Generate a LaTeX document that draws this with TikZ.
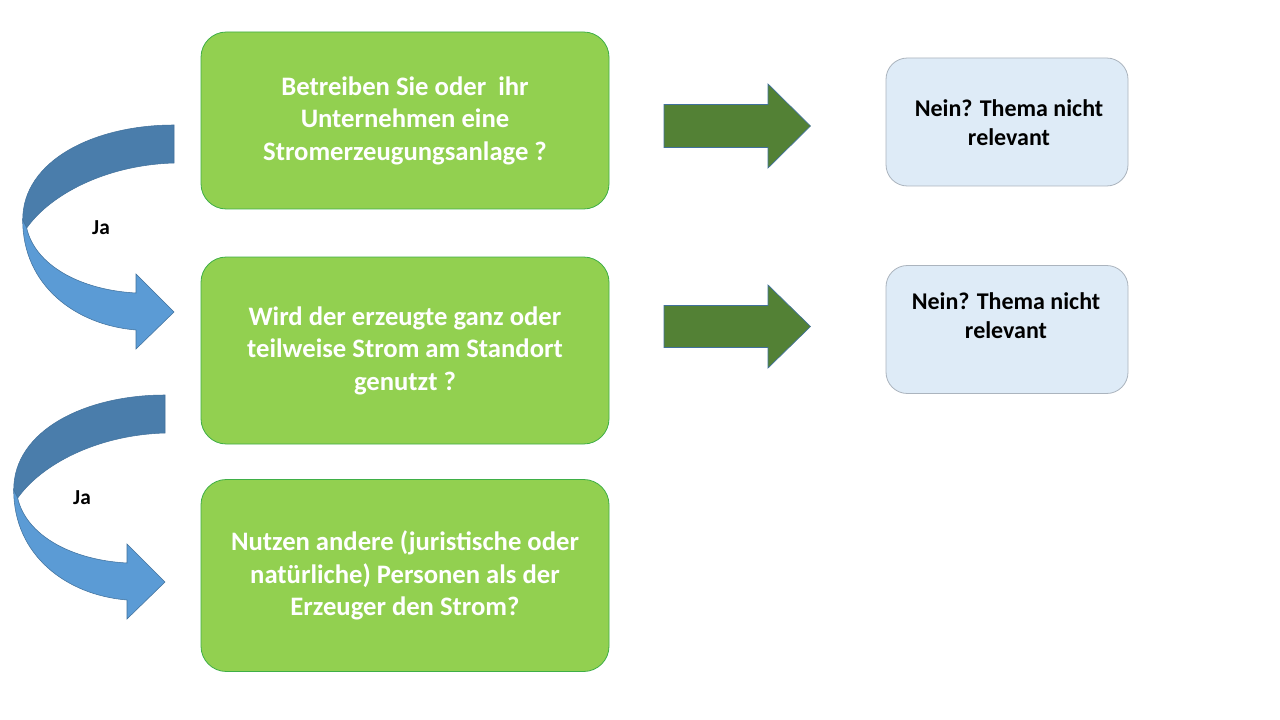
\documentclass[tikz,border=0pt]{standalone}
\usepackage{fontspec}
\setmainfont{Carlito}
\definecolor{boxgreen}{HTML}{92D050}
\definecolor{boxgreenline}{HTML}{3FAF46}
\definecolor{nobox}{HTML}{DEEBF7}
\definecolor{noboxline}{HTML}{ABB4BE}
\definecolor{arrgreen}{HTML}{538135}
\definecolor{arrline}{HTML}{41719C}
\definecolor{ribdark}{HTML}{4A7DAB}
\definecolor{riblight}{HTML}{5B9BD5}
\tikzset{
  qbox/.style={draw=boxgreenline, fill=boxgreen, line width=0.6pt, rounded corners=19pt,
    minimum width=306pt, inner sep=0pt, align=center, text=white,
    font=\fontsize{20}{24.4}\selectfont\bfseries},
  nbox/.style={draw=noboxline, fill=nobox, line width=0.6pt, rounded corners=16pt,
    minimum width=181.5pt, minimum height=96pt, inner sep=0pt},
  ntext/.style={align=center, inner sep=0pt, font=\fontsize{18}{21.9}\selectfont\bfseries},
  jatext/.style={inner sep=0pt, font=\fontsize{16}{19.5}\selectfont\bfseries},
  blockarrow/.style={fill=arrgreen, draw=arrline, line width=0.5pt},
  ribbon/.pic={
    \path[fill=ribdark, draw=arrline, line width=0.4pt]
      (174,125) .. controls (95,125) and (22.7,160) .. (22.7,220)
      -- (26.7,228)
      .. controls (50,195) and (105,165) .. (174,163) -- cycle;
    \path[fill=riblight, draw=arrline, line width=0.4pt]
      (22.7,220) .. controls (22.7,285) and (75,325) .. (136,330)
      -- (136,349) -- (174,312) -- (136,274) -- (136,293)
      .. controls (80,290) and (35,265) .. (26.7,228) -- cycle;
  }
}
\begin{document}
\begin{tikzpicture}[x=0.75pt, y=-0.75pt]
\useasboundingbox (0,0) rectangle (1280,720);
\fill[white] (0,0) rectangle (1280,720);

% question boxes
\node[qbox, minimum height=132.75pt] (q1) at (405,120.5)
  {Betreiben Sie oder\ \ ihr\\Unternehmen eine\\Stromerzeugungsanlage ?};
\node[qbox, minimum height=140.25pt] (q2) at (405,350.5)
  {Wird der erzeugte ganz oder\\teilweise Strom am Standort\\genutzt ?};
\node[qbox, minimum height=144pt] (q3) at (405,575.5)
  {Nutzen andere (juristische oder\\natürliche) Personen als der\\Erzeuger den Strom?};

% answer boxes
\node[nbox] (n1) at (1007,122) {};
\node[ntext] (n1t) at (1009,122.5) {Nein? Thema nicht\\relevant};
\node[nbox] (n2) at (1007,329.5) {};
\node[ntext] (n2t) at (1006,315.5) {Nein? Thema nicht\\relevant};

% block arrows
\path[blockarrow] (664,104.5) -- (768,104.5) -- (768,84) -- (810.5,126) -- (768,168)
  -- (768,147.5) -- (664,147.5) -- cycle;
\path[blockarrow] (664,305.5) -- (768,305.5) -- (768,285) -- (810.5,326.5) -- (768,368)
  -- (768,347.5) -- (664,347.5) -- cycle;

% curved arrows
\pic at (0,0) {ribbon};
\pic at (-9,270) {ribbon};
\node[jatext] (ja1) at (101,228) {Ja};
\node[jatext] (ja2) at (82,498) {Ja};
\end{tikzpicture}
\end{document}
